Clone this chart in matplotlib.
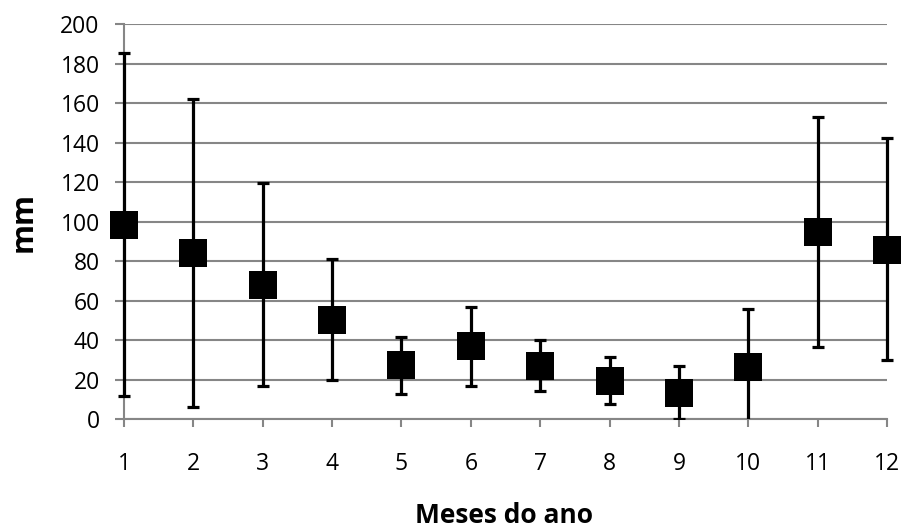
import matplotlib
matplotlib.use('Agg')
import matplotlib.pyplot as plt
import matplotlib.patches as patches

# Monthly values (mm)
months = [1, 2, 3, 4, 5, 6, 7, 8, 9, 10, 11, 12]
means = [98.4, 84.0, 68.0, 50.3, 27.3, 37.0, 27.1, 19.5, 13.2, 26.6, 94.6, 85.9]
upper = [185.3, 162.3, 119.8, 81.0, 41.8, 57.0, 40.2, 31.4, 27.0, 56.0, 153.0, 142.4]
lower = [11.8, 6.1, 16.7, 19.9, 12.7, 17.0, 14.3, 7.6, 0.1, -4.0, 36.5, 29.9]

y_ticks = [0, 20, 40, 60, 80, 100, 120, 140, 160, 180, 200]

plt.rcParams['font.family'] = ['Open Sans', 'DejaVu Sans']
grey = '#868686'

fig = plt.figure(figsize=(9.03, 5.29), dpi=100)
ax = fig.add_axes([124 / 903, 1 - 419.3 / 529, 763 / 903, 395 / 529])

err_low = [m - l for m, l in zip(means, lower)]
err_up = [u - m for m, u in zip(means, upper)]

# error bars, clipped only at the bottom of the axis (caps may stick out left/right)
eb = ax.errorbar(months, means, yerr=[err_low, err_up], fmt='none', ecolor='black',
                 elinewidth=2.3, capsize=4, capthick=2.3, zorder=3)
clip = patches.Rectangle((-0.1, 0), 1.2, 1.2, transform=ax.transAxes, visible=False)
ax.add_patch(clip)
for art in list(eb.lines[1]) + list(eb.lines[2]):
    art.set_clip_path(clip)

ax.plot(months, means, linestyle='none', marker='s', markersize=19.5,
        color='black', markeredgewidth=0, zorder=4, clip_on=False)

ax.set_xlim(1, 12)
ax.set_ylim(0, 200)
ax.set_xticks(months)
ax.set_yticks(y_ticks)
ax.yaxis.grid(True, color=grey, linewidth=1.5)
ax.set_axisbelow(True)

for side in ['top', 'right']:
    ax.spines[side].set_visible(False)
for side in ['left', 'bottom']:
    ax.spines[side].set_color(grey)
    ax.spines[side].set_linewidth(1.5)

ax.tick_params(axis='x', direction='out', length=5.8, width=1.5, color=grey,
               pad=18, labelsize=16.5)
ax.tick_params(axis='y', direction='out', length=6.5, width=1.5, color=grey,
               pad=11, labelsize=16.5)

fig.text(504 / 903, 1 - 523.3 / 529, 'Meses do ano', ha='center', va='baseline',
         fontsize=19, fontweight='bold')
fig.text(32 / 903, 1 - 222 / 529, 'mm', rotation=90, rotation_mode='anchor',
         ha='center', va='baseline', fontsize=22, fontweight='bold')

fig.savefig('out.png', dpi=100)
